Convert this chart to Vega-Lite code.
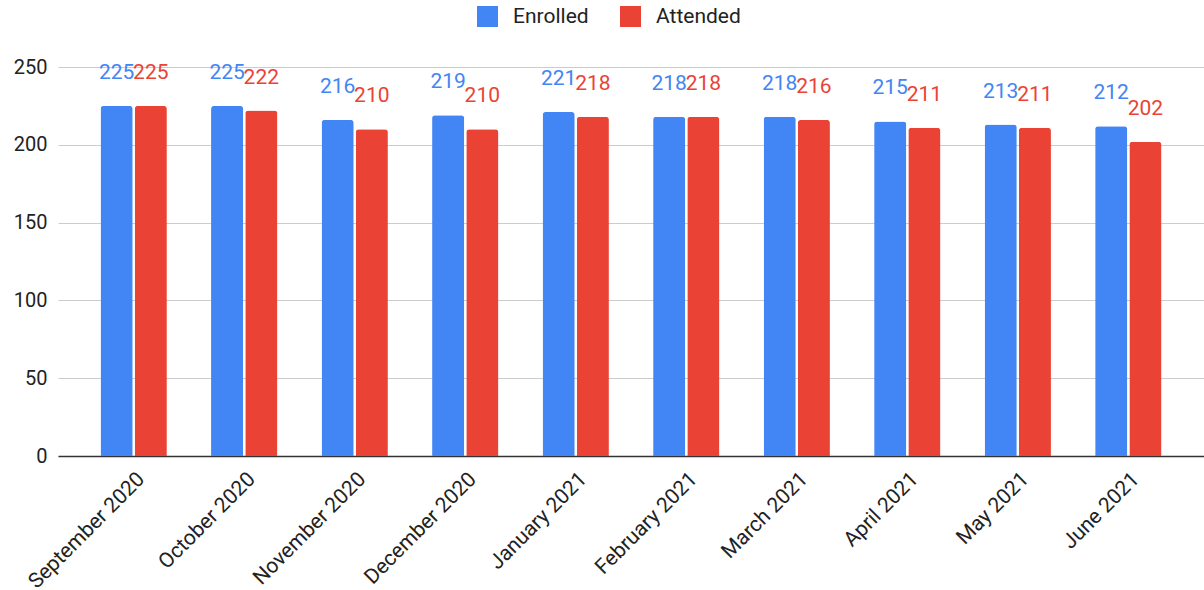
{
  "$schema": "https://vega.github.io/schema/vega-lite/v6.json",
  "width": 1146,
  "height": 389,
  "autosize": {"type": "none"},
  "padding": {"left": 58, "top": 67, "right": 0, "bottom": 134},
  "background": "white",
  "config": {
    "font": "Roboto",
    "view": {"stroke": null}
  },
  "data": {
    "values": [
      {"month": "September 2020", "series": "Enrolled", "value": 225},
      {"month": "September 2020", "series": "Attended", "value": 225},
      {"month": "October 2020", "series": "Enrolled", "value": 225},
      {"month": "October 2020", "series": "Attended", "value": 222},
      {"month": "November 2020", "series": "Enrolled", "value": 216},
      {"month": "November 2020", "series": "Attended", "value": 210},
      {"month": "December 2020", "series": "Enrolled", "value": 219},
      {"month": "December 2020", "series": "Attended", "value": 210},
      {"month": "January 2021", "series": "Enrolled", "value": 221},
      {"month": "January 2021", "series": "Attended", "value": 218},
      {"month": "February 2021", "series": "Enrolled", "value": 218},
      {"month": "February 2021", "series": "Attended", "value": 218},
      {"month": "March 2021", "series": "Enrolled", "value": 218},
      {"month": "March 2021", "series": "Attended", "value": 216},
      {"month": "April 2021", "series": "Enrolled", "value": 215},
      {"month": "April 2021", "series": "Attended", "value": 211},
      {"month": "May 2021", "series": "Enrolled", "value": 213},
      {"month": "May 2021", "series": "Attended", "value": 211},
      {"month": "June 2021", "series": "Enrolled", "value": 212},
      {"month": "June 2021", "series": "Attended", "value": 202}
    ]
  },
  "encoding": {
    "x": {
      "field": "month", "type": "nominal", "sort": null,
      "scale": {"paddingInner": 0.4, "paddingOuter": 0.385},
      "axis": {
        "title": null, "labelAngle": -45, "labelFontSize": 21, "labelColor": "#222222",
        "ticks": false, "domainColor": "#333333", "domainWidth": 1.5, "labelPadding": 12
      }
    },
    "xOffset": {
      "field": "series", "type": "nominal", "sort": ["Enrolled", "Attended"],
      "scale": {"paddingInner": 0.06}
    },
    "y": {
      "field": "value", "type": "quantitative",
      "scale": {"domain": [0, 250]},
      "axis": {
        "title": null, "values": [0, 50, 100, 150, 200, 250], "labelFontSize": 20, "labelColor": "#222222",
        "ticks": false, "domain": false, "gridColor": "#cccccc", "labelPadding": 11
      }
    },
    "color": {
      "field": "series", "type": "nominal",
      "scale": {"domain": ["Enrolled", "Attended"], "range": ["#4285F4", "#EA4335"]},
      "legend": {
        "title": null, "orient": "none", "legendX": 419, "legendY": -61, "direction": "horizontal",
        "symbolType": "square", "symbolSize": 441, "symbolStrokeWidth": 0, "labelFontSize": 21,
        "labelColor": "#222222", "columnPadding": 31, "labelOffset": 15
      }
    }
  },
  "layer": [
    {"mark": {"type": "bar", "cornerRadiusTopLeft": 3, "cornerRadiusTopRight": 3}},
    {"mark": {"type": "text", "baseline": "alphabetic", "dy": -27, "fontSize": 21}, "encoding": {"text": {"field": "value", "type": "quantitative"}}}
  ]
}
